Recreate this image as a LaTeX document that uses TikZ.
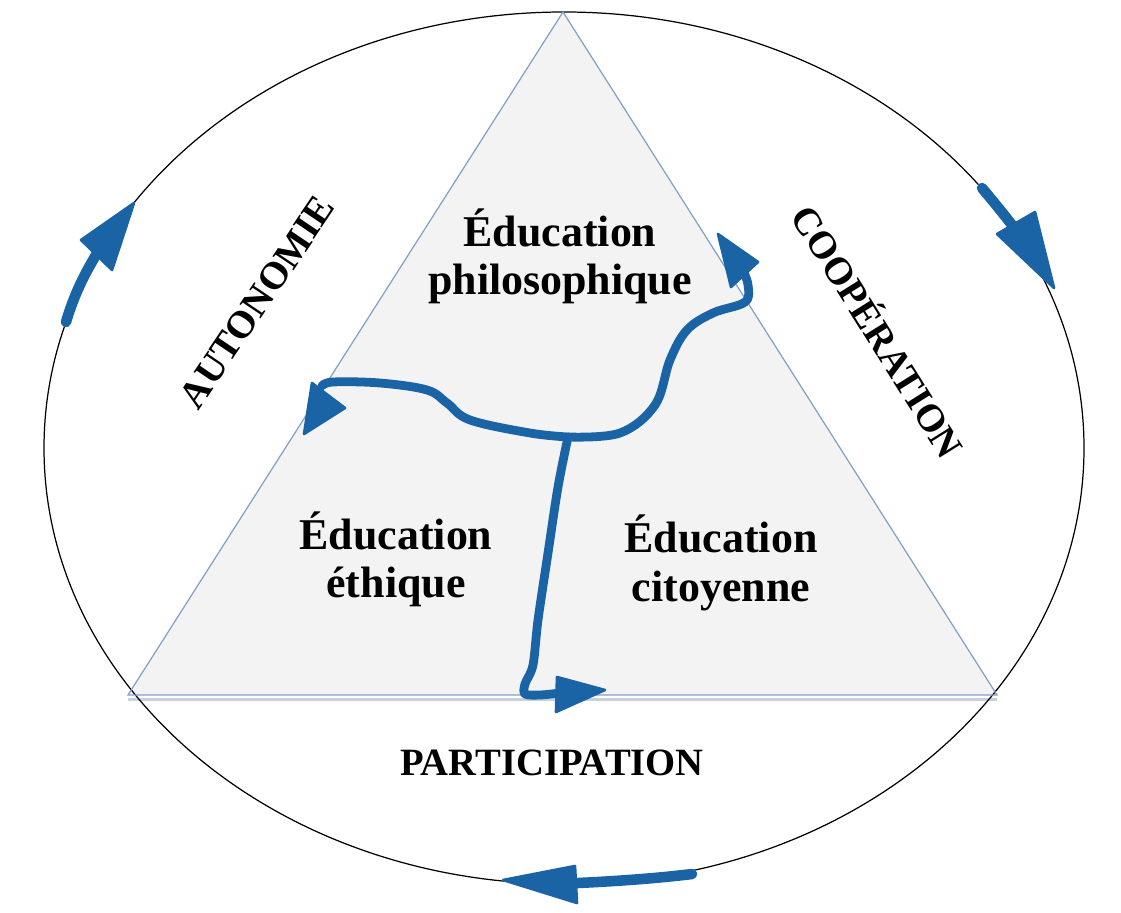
\documentclass[tikz,border=0pt]{standalone}
\usepackage{fontspec}
\setmainfont{Liberation Serif}
\begin{document}
\begin{tikzpicture}[x=0.02cm,y=-0.02cm,
  lbl/.style={font=\bfseries\fontsize{25}{27.5}\selectfont, align=center, text=black},
  caplbl/.style={font=\bfseries\fontsize{22}{24}\selectfont, text=black},
  bluestroke/.style={draw=arrowblue, line width=5pt, line cap=round, line join=round},
  bluehead/.style={fill=arrowblue, draw=arrowblue, line width=1.5pt, line join=round},
]
\definecolor{arrowblue}{RGB}{26,100,166}
\definecolor{triedge}{RGB}{130,160,200}
\definecolor{trifill}{RGB}{243,243,243}
\definecolor{shadowc}{RGB}{200,208,220}
\useasboundingbox (0,0) rectangle (1121,912);
% triangle
\coordinate (apex) at (563,12);
\coordinate (bl) at (128,695);
\coordinate (br) at (997,695);
\draw[shadowc, line width=2pt] ([yshift=-2.5]bl) -- ([yshift=-2.5]br);
\fill[trifill] (apex) -- (bl) -- (br) -- cycle;
% outer ellipse
\draw[black, line width=0.7pt] (564,448) ellipse [x radius=520, y radius=436];
\draw[triedge, line width=0.7pt] (apex) -- (bl) -- (br) -- cycle;
% labels
\node[lbl] (philo) at (560,256) {Éducation\\philosophique};
\node[lbl] (ethique) at (396,559) {Éducation\\éthique};
\node[lbl] (citoy) at (721,563) {Éducation\\citoyenne};
\node[caplbl, rotate=56] (auto) at (257,302) {AUTONOMIE};
\node[caplbl, rotate=-58] (coop) at (880,330) {COOPÉRATION};
\node[caplbl] (part) at (552,763) {PARTICIPATION};
% central junction
\coordinate (j) at (568,437);
% left branch
\draw[bluestroke] plot[smooth, tension=0.6] coordinates {(j) (530,433) (470,420) (447,403) (427,390) (380,383) (333,382) (322,386)};
\filldraw[bluehead] (312,383) -- (304,434) -- (345,408) -- cycle;
% right-upper branch
\draw[bluestroke] plot[smooth, tension=0.6] coordinates {(j) (620,433) (655,405) (670,360) (687,330) (713,313) (745,302) (748,285) (742,268)};
\filldraw[bluehead] (718,234) -- (758,262) -- (731,287) -- cycle;
% down branch
\draw[bluestroke] plot[smooth, tension=0.5] coordinates {(j) (558,487) (548,553) (538,620) (533,665) (525,684) (525,694) (540,695) (560,693)};
\filldraw[bluehead] (557,677) -- (605,690) -- (556,712) -- cycle;
% outer arrows
\draw[draw=arrowblue, line width=6pt, line cap=round] (66,322) .. controls (74,295) and (84,275) .. (96,255);
\filldraw[bluehead] (81,240) -- (134,203) -- (112,270) -- cycle;
\draw[draw=arrowblue, line width=6pt, line cap=round] (982,188) .. controls (992,200) and (1002,212) .. (1012,225);
\filldraw[bluehead] (997,234) -- (1035,212) -- (1054,288) -- cycle;
\draw[draw=arrowblue, line width=6pt, line cap=round] (692,874) .. controls (660,878) and (620,881) .. (578,883);
\filldraw[bluehead] (575,866) -- (577,903) -- (503,880) -- cycle;
\end{tikzpicture}
\end{document}
